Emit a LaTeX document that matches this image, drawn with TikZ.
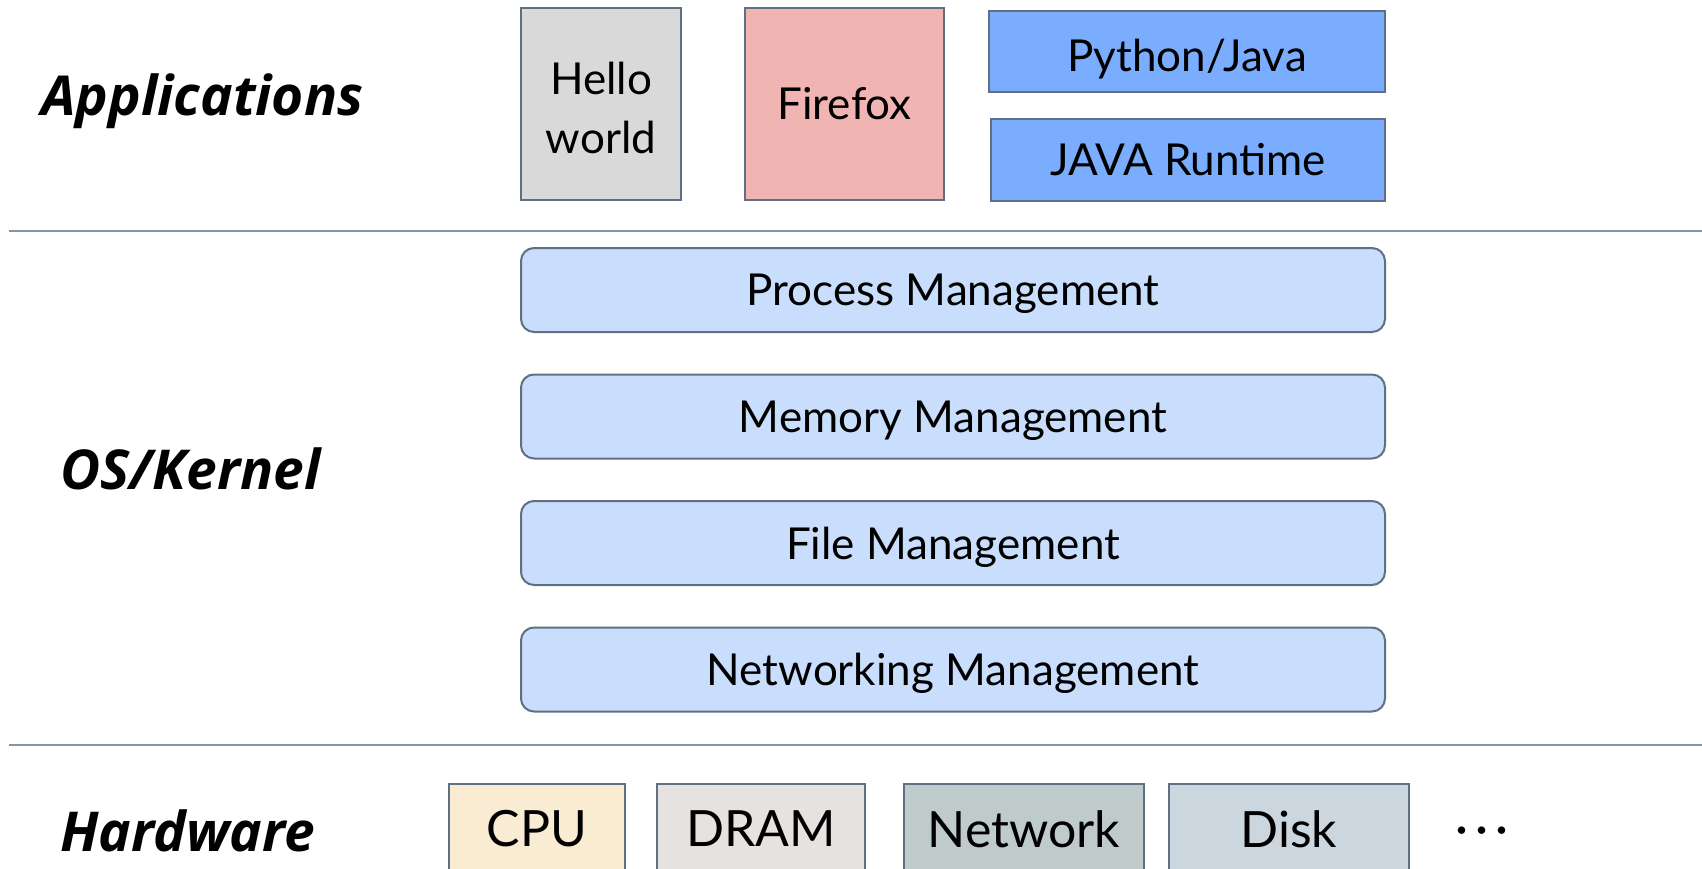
\documentclass[tikz,border=0pt]{standalone}
\usepackage{fontspec}
\setmainfont{Lato}
\newfontfamily\labelfont{Open Sans}
\definecolor{edgec}{HTML}{5E7082}
\definecolor{sepc}{HTML}{7F96AB}
\definecolor{hellofill}{HTML}{D9D9D9}
\definecolor{firefill}{HTML}{F0B5B3}
\definecolor{javafill}{HTML}{7AADFD}
\definecolor{osfill}{HTML}{C9DDFC}
\definecolor{cpufill}{HTML}{FAEBD3}
\definecolor{dramfill}{HTML}{E6E2DF}
\definecolor{netfill}{HTML}{BFCACA}
\definecolor{diskfill}{HTML}{CBD6DF}
\tikzset{
  box/.style={draw=edgec, line width=2pt, inner sep=0pt, align=center,
    font=\fontsize{44}{59}\selectfont},
  osbox/.style={box, fill=osfill, rounded corners=13pt, minimum width=864pt, minimum height=84pt, text depth=0pt},
  hwbox/.style={draw=edgec, line width=2pt, inner sep=0pt, minimum height=140pt, anchor=north},
  hwtext/.style={font=\fontsize{50}{54}\selectfont},
  layerlabel/.style={anchor=west, inner sep=0pt, font=\labelfont\bfseries\itshape\fontsize{55}{60}\selectfont},
  sepline/.style={draw=sepc, line width=2pt}
}
\begin{document}
\begin{tikzpicture}[x=1pt,y=-1pt]
\useasboundingbox (0,0) rectangle (1702,869);
\clip (0,0) rectangle (1702,869);
\fill[white] (0,0) rectangle (1702,869);

% layer labels
\node[layerlabel] (lapp) at (41,101) {Applications};
\node[layerlabel] (los) at (60,469) {OS/Kernel};
\node[layerlabel] (lhw) at (60,831) {Hardware};

% applications
\node[box, fill=hellofill, minimum width=160pt, minimum height=192pt,
  label={[font=\fontsize{44}{59}\selectfont, align=center, inner sep=0pt, yshift=-3.5pt]center:Hello\\world}] (hello) at (601,104) {};
\node[box, fill=firefill, minimum width=199pt, minimum height=192pt] (firefox) at (844.5,104) {Firefox};
\node[box, fill=javafill, minimum width=396pt, minimum height=81pt, text depth=0pt] (python) at (1187,51.5) {\raisebox{-3.5pt}[\height][0pt]{Python/Java}};
\node[box, fill=javafill, minimum width=394pt, minimum height=82pt] (jre) at (1188,160) {JAVA Runtime};

% separators
\coordinate (s1a) at (9,231);
\coordinate (s1b) at (1702,231);
\coordinate (s2a) at (9,745);
\coordinate (s2b) at (1702,745);
\draw[sepline] (s1a) -- (s1b);
\draw[sepline] (s2a) -- (s2b);

% OS
\node[osbox] (proc) at (953,290) {Process Management};
\node[osbox] (mem) at (953,416.5) {Memory Management};
\node[osbox] (file) at (953,543) {File Management};
\node[osbox] (net) at (953,669.5) {Networking Management};

% hardware
\node[hwbox, fill=cpufill, minimum width=176pt] (cpu) at (537,783) {};
\node[hwbox, fill=dramfill, minimum width=208pt] (dram) at (761,783) {};
\node[hwbox, fill=netfill, minimum width=240pt] (network) at (1024,783) {};
\node[hwbox, fill=diskfill, minimum width=240pt] (disk) at (1289,783) {};
\node[hwtext] (tcpu) at (537,829) {CPU};
\node[hwtext] (tdram) at (761,829) {DRAM};
\node[hwtext] (tnet) at (1024,829) {Network};
\node[hwtext] (tdisk) at (1289,829) {Disk};
\node[hwtext] (dots) at (1482,836) {·\hspace{7pt}·\hspace{7pt}·};
\end{tikzpicture}
\end{document}
